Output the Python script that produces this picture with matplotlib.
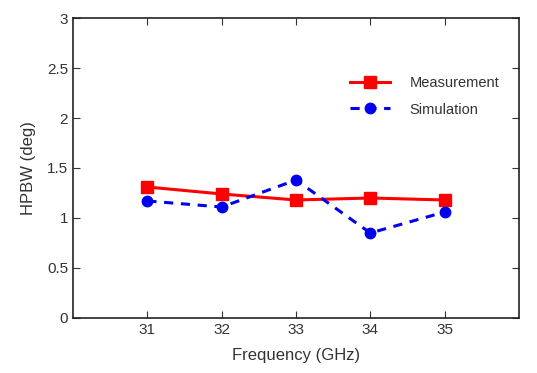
import matplotlib
matplotlib.use("Agg")
import matplotlib.pyplot as plt

plt.rcParams['font.family'] = ['Liberation Sans', 'DejaVu Sans']

freq = [31, 32, 33, 34, 35]
measurement = [1.31, 1.24, 1.18, 1.20, 1.18]
simulation = [1.17, 1.11, 1.38, 0.85, 1.06]

fig = plt.figure(figsize=(5.37, 3.73), dpi=100)
ax = fig.add_axes([0.136, 0.1475, 0.8305, 0.8042])

ax.plot(freq, measurement, color='#ff0000', linestyle='-', linewidth=2.2,
        marker='s', markersize=8, label='Measurement')
ax.plot(freq, simulation, color='#0000ee', linestyle='--', linewidth=2.2,
        marker='o', markersize=7.5, dashes=(3, 2.5), label='Simulation')

ax.set_xlim(30, 36)
ax.set_ylim(0, 3)
ax.set_xticks(freq)
ax.set_yticks([0, 0.5, 1, 1.5, 2, 2.5, 3])
ax.set_yticklabels(['0', '0.5', '1', '1.5', '2', '2.5', '3'])
ax.tick_params(direction='in', top=True, right=True, labelsize=11, length=5,
               colors='#333333', labelcolor='#333333')
for s in ax.spines.values():
    s.set_color('#222222')
    s.set_linewidth(1.2)

ax.set_xlabel('Frequency (GHz)', fontsize=12, color='#333333', labelpad=8)
ax.set_ylabel('HPBW (deg)', fontsize=12, color='#333333', labelpad=8)

leg = ax.legend(loc='upper right', bbox_to_anchor=(0.985, 0.85), frameon=False,
                fontsize=10.5, handlelength=2.8, handletextpad=1.3, labelspacing=0.85)
for t in leg.get_texts():
    t.set_color('#333333')

fig.savefig('out.png', dpi=100)
